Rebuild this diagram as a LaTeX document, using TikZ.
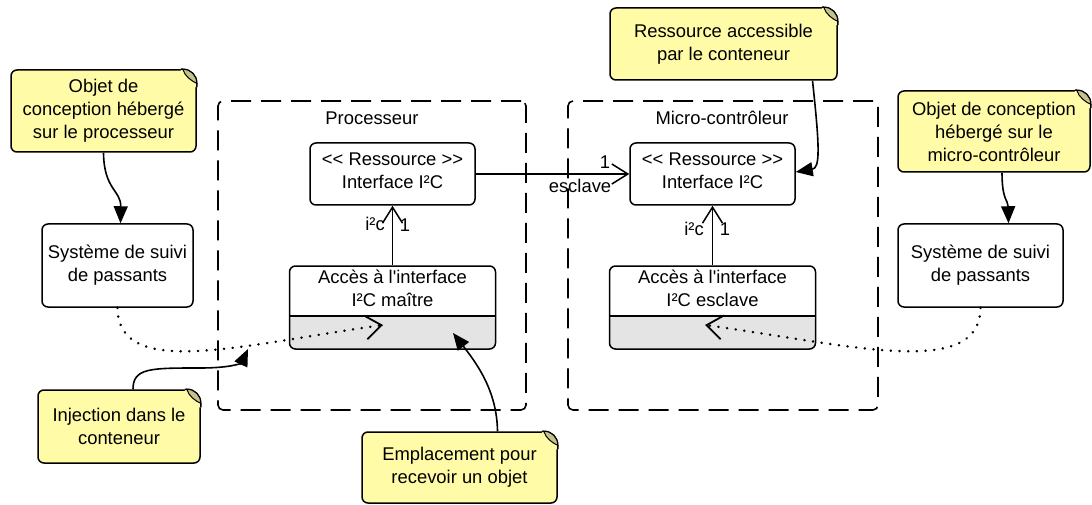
\documentclass[tikz,border=0pt]{standalone}
\usepackage{fontspec}
\newfontfamily\uisans{Liberation Sans}
\usetikzlibrary{arrows.meta,positioning,calc}
\definecolor{noteY}{RGB}{255,251,167}
\definecolor{noteFold}{RGB}{196,193,140}
\definecolor{slotG}{RGB}{228,228,228}
\tikzset{
  container/.style={draw,line width=1.6pt,dash pattern=on 20pt off 10pt,
    rounded corners=5pt,inner sep=0pt},
  classbox/.style={draw,line width=1.5pt,fill=white,rounded corners=6pt,
    align=center,inner sep=0pt},
  partbox/.style={classbox,path picture={
      \fill[slotG] (path picture bounding box.south west) rectangle
        ([yshift=33pt]path picture bounding box.south east);
      \draw[line width=1.5pt] ([yshift=33pt]path picture bounding box.south west)
        -- ([yshift=33pt]path picture bounding box.south east);}},
  note/.style={draw,line width=1.5pt,fill=noteY,rounded corners=6pt,
    align=center,inner sep=0pt},
  assoc/.style={line width=1.5pt,-{Straight Barb[length=16pt,width=20pt]}},
  inject/.style={line width=2.6pt,line cap=round,dash pattern=on 0.2pt off 8.5pt,
    -{Straight Barb[length=16pt,width=24pt,line width=1.8pt]}},
  pointer/.style={line width=1.6pt,-{Triangle[length=17pt,width=14pt]}},
  lbl/.style={inner sep=0pt,align=center}
}

\begin{document}
\begin{tikzpicture}[x=1pt,y=-1pt,font=\uisans\fontsize{18.4}{23}\selectfont]
\useasboundingbox (0,0) rectangle (1092,505);

% deployment containers
\node[container,minimum width=308pt,minimum height=309pt] (proc) at (372,255.5) {};
\node[container,minimum width=310pt,minimum height=309pt] (micro) at (723,255.5) {};
\node[lbl] (procT) at (372,118) {Processeur};
\node[lbl] (microT) at (722,118) {Micro-contrôleur};

% resources and access parts
\node[classbox,minimum width=165pt,minimum height=62pt] (resP) at (392.5,174) {};
\node[lbl] (resPT) at (392.5,171) {<< Ressource >>\\Interface I²C};
\node[classbox,minimum width=165pt,minimum height=62pt] (resM) at (712.5,174) {};
\node[lbl] (resMT) at (712.5,171) {<< Ressource >>\\Interface I²C};
\node[partbox,minimum width=206pt,minimum height=83pt] (accP) at (392.5,307.5) {};
\node[lbl] (accPT) at (392.5,288) {Accès à l'interface\\I²C maître};
\node[partbox,minimum width=206pt,minimum height=83pt] (accM) at (712.5,307.5) {};
\node[lbl] (accMT) at (712.5,288) {Accès à l'interface\\I²C esclave};

% hosted design objects
\node[classbox,minimum width=151pt,minimum height=83pt] (sysP) at (117.5,265.5)
  {Système de suivi\\de passants};
\node[classbox,minimum width=165pt,minimum height=83pt] (sysM) at (980.5,265.5)
  {Système de suivi\\de passants};

% comment notes
\node[note,minimum width=185pt,minimum height=82pt] (noteP) at (103.5,111)
  {Objet de\\conception hébergé\\sur le processeur};
\node[note,minimum width=192pt,minimum height=81pt] (noteM) at (994,131.5)
  {Objet de conception\\hébergé sur le\\micro-contrôleur};
\node[note,minimum width=227pt,minimum height=72pt] (noteR) at (723.5,44)
  {Ressource accessible\\par le conteneur};
\node[note,minimum width=162pt,minimum height=73pt] (noteInj) at (119,426.5)
  {Injection dans le\\conteneur};
\node[note,minimum width=195pt,minimum height=71pt] (noteEmp) at (459.5,467.5)
  {Emplacement pour\\recevoir un objet};

% dog-ears
\foreach \n in {noteP,noteM,noteR,noteInj,noteEmp}{
  \begin{scope}[shift={(\n.north east)}]
    \fill[white] (-16,-3) rectangle (3,18);
    \fill[noteY] (-16,0) -- (-14,0) .. controls (-6,0) and (0,6) .. (0,14)
      -- (0,18) -- (-16,18) -- cycle;
    \draw[line width=1.5pt] (-16,0) -- (-14,0) .. controls (-6,0) and (0,6) .. (0,14) -- (0,18);
    \draw[line width=1pt,fill=noteFold] (-14,0) .. controls (-6,0) and (0,6) .. (0,14)
      .. controls (-5,12) and (-12,7) .. cycle;
  \end{scope}
}

% associations
\draw[assoc] (accP.north) -- (resP.south);
\draw[assoc] (accM.north) -- (resM.south);
\draw[assoc] (resP.east) -- (resM.west);
\node[lbl] (i2cP) at (375,224) {i²c};
\node[lbl] (oneP) at (405,225) {1};
\node[lbl] (i2cM) at (694,229) {i²c};
\node[lbl] (oneM) at (725,229) {1};
\node[lbl] (oneS) at (605,162) {1};
\node[lbl] (slave) at (580,186) {esclave};

% injection into the slots
\coordinate (slotP) at (383,325);
\coordinate (slotM) at (705,325);
\draw[inject] (sysP.south) .. controls (118,380) and (240,345) .. (slotP);
\draw[inject] (sysM.south) .. controls (980,380) and (850,345) .. (slotM);

% note pointers
\coordinate (injTip) at (248,349);
\coordinate (empTip) at (453,333);
\draw[pointer] (noteP.south) .. controls (104,190) and (121,190) .. ([xshift=3pt]sysP.north);
\draw[pointer] ([xshift=8pt]noteM.south) .. controls (1002,200) and (1008,200)
  .. ([xshift=28pt]sysM.north);
\draw[pointer] ([xshift=89pt]noteR.south) .. controls (820,150) and (820,168)
  .. ([yshift=2pt]resM.east);
\draw[pointer] ([xshift=14pt]noteInj.north) .. controls (133,368) and (150,368) .. (200,368)
  .. controls (235,368) and (242,362) .. (injTip);
\draw[pointer] ([xshift=38pt]noteEmp.north) .. controls (497,392) and (478,365) .. (empTip);
\end{tikzpicture}
\end{document}
